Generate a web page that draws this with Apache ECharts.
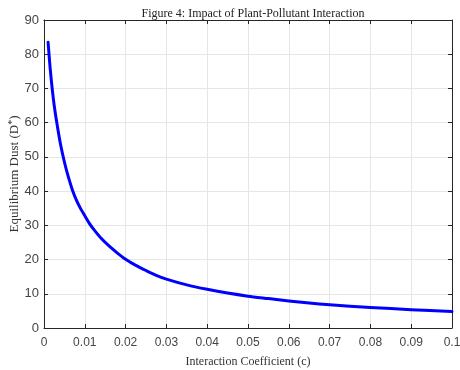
<!DOCTYPE html>
<html>
<head>
<meta charset="utf-8">
<script src="https://cdn.jsdelivr.net/npm/echarts@6/dist/echarts.min.js"></script>
<style>
  html, body { margin: 0; padding: 0; background: #fff; }
  #chart { width: 460px; height: 370px; }
</style>
</head>
<body>
<div id="chart"></div>
<script>
// interaction coefficient c and equilibrium dust D*
const coeffs = [0.001, 0.0015, 0.002, 0.0025, 0.003, 0.004, 0.005, 0.006, 0.007, 0.008, 0.009, 0.01,
  0.011, 0.012, 0.014, 0.016, 0.018, 0.02, 0.0225, 0.025, 0.0275, 0.03, 0.035, 0.04, 0.045,
  0.05, 0.055, 0.06, 0.065, 0.07, 0.08, 0.09, 0.1];
const dust = [83.5, 76, 70, 65, 61, 54, 48.5, 44, 40.2, 37.2, 34.8, 32.8,
  30.8, 29.1, 26.2, 23.9, 21.9, 20.1, 18.3, 16.8, 15.4, 14.3, 12.6, 11.3, 10.2,
  9.3, 8.6, 7.9, 7.3, 6.8, 6.0, 5.35, 4.8];
const xTicks = { min: 0, max: 0.1, step: 0.01 };
const yTicks = { min: 0, max: 90, step: 10 };

const chart = echarts.init(document.getElementById('chart'));

const gridColor = '#e6e6e6';
const axisColor = '#262626';
const serif = '"Liberation Serif", "DejaVu Serif", serif';
const sans = '"Liberation Sans", Arial, sans-serif';

const baseAxis = {
  axisLine: { show: true, onZero: false, lineStyle: { color: axisColor, width: 1 } },
  axisTick: { show: true, inside: true, length: 4, lineStyle: { color: axisColor } },
};

chart.setOption({
  animation: false,
  backgroundColor: '#fff',
  title: {
    text: 'Figure 4: Impact of Plant-Pollutant Interaction',
    left: 248,
    top: 3,
    textAlign: 'center',
    textStyle: { fontFamily: serif, fontSize: 12, fontWeight: 'normal', color: '#222' },
  },
  grid: { left: 44, right: 8, top: 20, bottom: 42, outerBoundsMode: 'none', containLabel: false },
  xAxis: [
    {
      ...baseAxis,
      type: 'value',
      min: xTicks.min,
      max: xTicks.max,
      interval: xTicks.step,
      name: 'Interaction Coefficient (c)',
      nameLocation: 'middle',
      nameGap: 28,
      nameMoveOverlap: false,
      nameTextStyle: { fontFamily: serif, fontSize: 12, color: '#333' },
      axisLabel: {
        color: '#444', fontFamily: sans, fontSize: 12, margin: 9,
        formatter: (v) => String(parseFloat(v.toFixed(2))),
      },
      splitLine: { show: true, lineStyle: { color: gridColor } },
    },
    {
      ...baseAxis,
      type: 'value',
      position: 'top',
      min: xTicks.min,
      max: xTicks.max,
      interval: xTicks.step,
      axisLabel: { show: false },
      splitLine: { show: false },
    },
  ],
  yAxis: [
    {
      ...baseAxis,
      type: 'value',
      min: yTicks.min,
      max: yTicks.max,
      interval: yTicks.step,
      name: 'Equilibrium Dust (D{s|*})',
      nameLocation: 'middle',
      nameGap: 21,
      nameMoveOverlap: false,
      nameTextStyle: {
        fontFamily: serif, fontSize: 13, color: '#333',
        rich: { s: { fontFamily: serif, fontSize: 10, color: '#333', verticalAlign: 'top', padding: [0, 0, 6, 0] } },
      },
      axisLabel: { color: '#444', fontFamily: sans, fontSize: 13, margin: 5 },
      splitLine: { show: true, lineStyle: { color: gridColor } },
    },
    {
      ...baseAxis,
      type: 'value',
      position: 'right',
      min: yTicks.min,
      max: yTicks.max,
      interval: yTicks.step,
      axisLabel: { show: false },
      splitLine: { show: false },
    },
  ],
  series: [
    {
      type: 'line',
      smooth: 0.25,
      showSymbol: false,
      xAxisIndex: 0,
      yAxisIndex: 0,
      lineStyle: { color: '#0000ff', width: 3, join: 'round', cap: 'round' },
      data: coeffs.map((c, i) => [c, dust[i]]),
    },
  ],
});
</script>
</body>
</html>
